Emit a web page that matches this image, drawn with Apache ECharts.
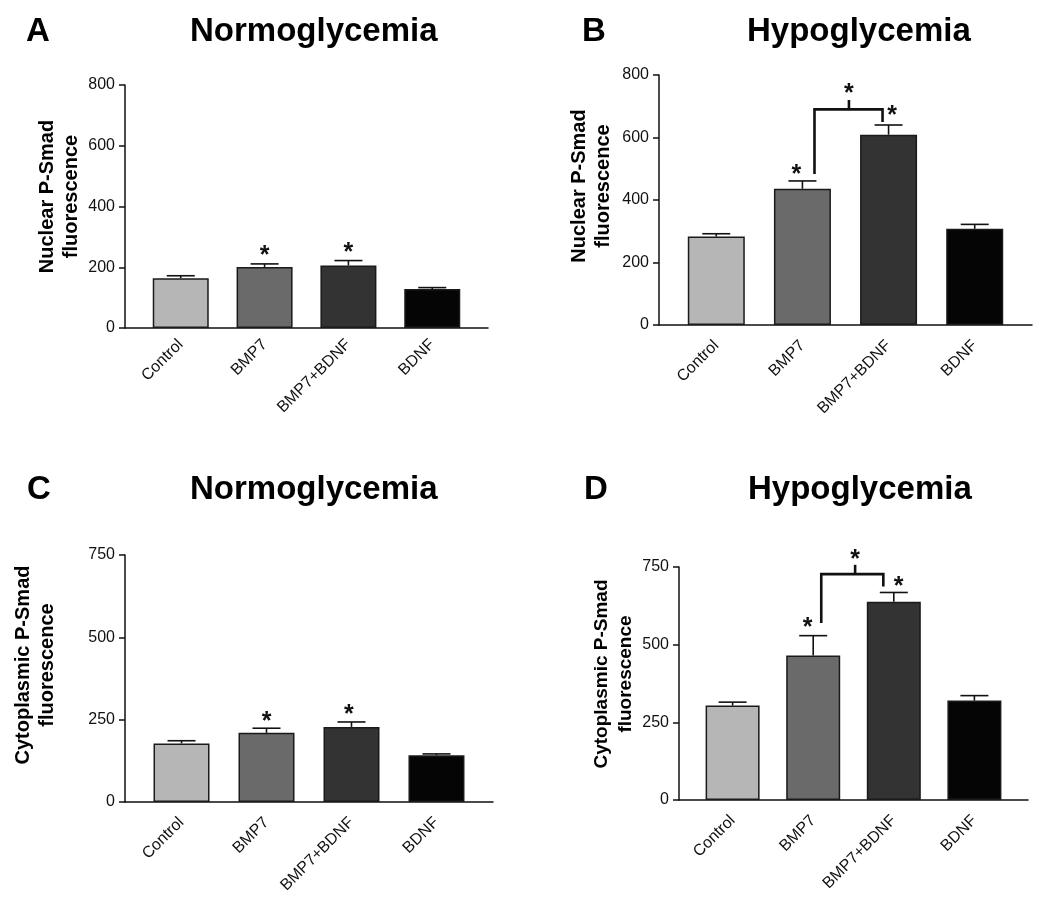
<!DOCTYPE html>
<html><head><meta charset="utf-8">
<script src="https://cdn.jsdelivr.net/npm/echarts@6/dist/echarts.min.js"></script>
<style>html,body{margin:0;padding:0;background:#fff}#c{width:1050px;height:905px}</style>
</head><body><div id="c"></div>
<script>
// ---------- data ----------
const categories = ['Control', 'BMP7', 'BMP7+BDNF', 'BDNF'];
const panelLetters = ['A', 'B', 'C', 'D'];
const panelTitles = ['Normoglycemia', 'Hypoglycemia', 'Normoglycemia', 'Hypoglycemia'];
const yNames = ['Nuclear P-Smad\nfluorescence', 'Nuclear P-Smad\nfluorescence',
                'Cytoplasmic P-Smad\nfluorescence', 'Cytoplasmic P-Smad\nfluorescence'];

const nuclearNormo    = [164, 201, 206, 128];
const nuclearNormoErr = [8, 10, 16, 5];
const nuclearHypo     = [283, 436, 609, 308];
const nuclearHypoErr  = [9, 25, 31, 14];
const cytoNormo       = [178, 210, 228, 142];
const cytoNormoErr    = [8, 14, 15, 4];
const cytoHypo        = [304, 465, 638, 320];
const cytoHypoErr     = [11, 64, 30, 16];

const nuclearAxis = {min: 0, max: 800, interval: 200};
const cytoAxis    = {min: 0, max: 750, interval: 250};

// significance stars [x position (category index), y value]
const starsA = [[1, 252], [2, 264]];
const starsB = [[0.93, 496], [2.04, 685], [1.54, 755]];
const starsC = [[1, 259], [1.97, 279]];
const starsD = [[0.93, 570], [2.06, 700], [1.52, 787]];
// brackets [xLeft, xRight, xMid, yTop, yLeftBottom, yRightBottom, yMidTop]
const bracketB = [[1.14, 1.93, 1.54, 690, 483, 650, 720]];
const bracketD = [[1.10, 1.87, 1.52, 727, 570, 687, 757]];

// ---------- styles ----------
const FONT = 'Liberation Sans, Arial, sans-serif';
const barColors = ['#b6b6b6', '#6a6a6a', '#333333', '#050505'];
const grids = [
  {left: 125, top: 85, width: 363, height: 243},
  {left: 659, top: 75, width: 373, height: 250},
  {left: 125, top: 555, width: 368, height: 247},
  {left: 679, top: 567, width: 349, height: 233}
];
const barWidths = [56, 57, 56, 54];
const nameGaps = [42, 44, 66, 41];
const nameSizes = [20, 20, 20, 19];
const namePad = [20, 28, 27, 19];
const xLabelMargins = [14, 18, 18, 18];
const titlePos = [
  {lx: 26, tx: 190, top: 15},
  {lx: 582, tx: 747, top: 15},
  {lx: 27, tx: 190, top: 473},
  {lx: 584, tx: 748, top: 473}
];

const panels = [
  {vals: nuclearNormo, errs: nuclearNormoErr, axis: nuclearAxis, stars: starsA, bracket: null},
  {vals: nuclearHypo, errs: nuclearHypoErr, axis: nuclearAxis, stars: starsB, bracket: bracketB},
  {vals: cytoNormo, errs: cytoNormoErr, axis: cytoAxis, stars: starsC, bracket: null},
  {vals: cytoHypo, errs: cytoHypoErr, axis: cytoAxis, stars: starsD, bracket: bracketD}
];

function errRender(capW) {
  return function (params, api) {
    const x = api.value(0), m = api.value(1), e = api.value(2);
    const p0 = api.coord([x, m]);
    const p1 = api.coord([x, m + e]);
    const st = {stroke: '#111', lineWidth: 1.6};
    return {type: 'group', children: [
      {type: 'line', shape: {x1: p0[0], y1: p0[1], x2: p1[0], y2: p1[1]}, style: st},
      {type: 'line', shape: {x1: p1[0] - capW / 2, y1: p1[1], x2: p1[0] + capW / 2, y2: p1[1]}, style: st}
    ]};
  };
}
function starRender(params, api) {
  const p = api.coord([api.value(0), api.value(1)]);
  return {type: 'text', x: p[0], y: p[1] + 5,
    style: {text: '*', fill: '#111', font: 'bold 25px ' + FONT, align: 'center', verticalAlign: 'middle'}};
}
function bracketRender(params, api) {
  const xl = api.value(0), xr = api.value(1), xm = api.value(2), yt = api.value(3),
        yl = api.value(4), yr = api.value(5), ym = api.value(6);
  const a = api.coord([xl, yl]), b = api.coord([xl, yt]), c = api.coord([xr, yt]), d = api.coord([xr, yr]);
  const m0 = api.coord([xm, yt]), m1 = api.coord([xm, ym]);
  const st = {stroke: '#111', lineWidth: 2.6, fill: null};
  return {type: 'group', children: [
    {type: 'polyline', shape: {points: [a, b, c, d]}, style: st},
    {type: 'line', shape: {x1: m0[0], y1: m0[1], x2: m1[0], y2: m1[1]}, style: st}
  ]};
}

const option = {
  backgroundColor: '#fff',
  animation: false,
  textStyle: {fontFamily: FONT},
  title: [],
  grid: [], xAxis: [], yAxis: [], series: []
};

panels.forEach((p, i) => {
  option.title.push({text: panelLetters[i], left: titlePos[i].lx, top: titlePos[i].top, padding: 0,
    textStyle: {fontFamily: FONT, fontWeight: 'bold', fontSize: 33, color: '#000'}});
  option.title.push({text: panelTitles[i], left: titlePos[i].tx, top: titlePos[i].top, padding: 0,
    textStyle: {fontFamily: FONT, fontWeight: 'bold', fontSize: 33, color: '#000'}});
  option.grid.push(Object.assign({containLabel: false}, grids[i]));
  option.xAxis.push({
    gridIndex: i, type: 'value', min: -0.665, max: 3.665,
    axisLine: {show: true, onZero: false, lineStyle: {color: '#111', width: 1.5}},
    axisTick: {show: false}, splitLine: {show: false},
    axisLabel: {customValues: [0, 1, 2, 3], formatter: v => categories[Math.round(v)] || '',
      rotate: 45, fontSize: 16, color: '#111', margin: xLabelMargins[i], fontFamily: FONT}
  });
  option.yAxis.push({
    gridIndex: i, type: 'value', min: p.axis.min, max: p.axis.max, interval: p.axis.interval,
    axisLine: {show: true, onZero: false, lineStyle: {color: '#111', width: 1.5}},
    axisTick: {show: true, length: 6, lineStyle: {color: '#111', width: 1.5}},
    splitLine: {show: false},
    axisLabel: {fontSize: 16, color: '#111', margin: 10, fontFamily: FONT},
    name: yNames[i], nameLocation: 'middle', nameRotate: 90, nameGap: nameGaps[i],
    nameTextStyle: {fontSize: nameSizes[i], fontWeight: 'bold', color: '#000', lineHeight: 24,
      fontFamily: FONT, padding: [0, 0, 0, namePad[i]]}
  });
  option.series.push({
    type: 'bar', xAxisIndex: i, yAxisIndex: i, barWidth: barWidths[i],
    data: p.vals.map((v, k) => ({value: [k, v], itemStyle: {color: barColors[k]}})),
    itemStyle: {borderColor: '#1a1a1a', borderWidth: 1.5}, z: 2
  });
  option.series.push({
    type: 'custom', xAxisIndex: i, yAxisIndex: i, z: 3, clip: false,
    renderItem: errRender(28),
    data: p.vals.map((v, k) => [k, v, p.errs[k]])
  });
  option.series.push({
    type: 'custom', xAxisIndex: i, yAxisIndex: i, z: 4, clip: false,
    renderItem: starRender, data: p.stars
  });
  if (p.bracket) {
    option.series.push({
      type: 'custom', xAxisIndex: i, yAxisIndex: i, z: 4, clip: false,
      renderItem: bracketRender, data: p.bracket
    });
  }
});

const chart = echarts.init(document.getElementById('c'), null, {renderer: 'canvas'});
chart.setOption(option);
</script></body></html>
